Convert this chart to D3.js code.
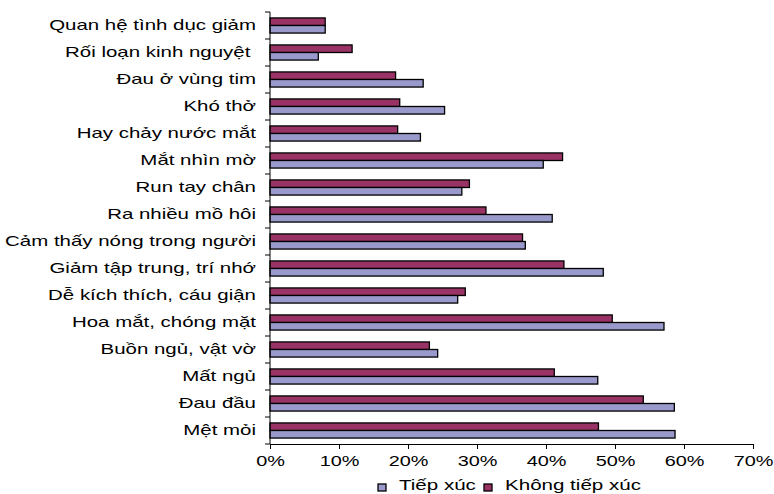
<!DOCTYPE html>
<html>
<head>
<meta charset="utf-8">
<script src="https://cdn.jsdelivr.net/npm/d3@7"></script>
<style>
body { margin: 0; background: #fff; }
svg { display: block; font-family: "Liberation Sans", Arial, sans-serif; }
text { white-space: pre; }
</style>
</head>
<body>
<svg id="chart" width="774" height="494"></svg>
<script>
const categories = [
  "Quan hệ tình dục giảm",
  "Rối loạn kinh nguyệt ",
  "Đau ở vùng tim",
  "Khó thở",
  "Hay chảy nước mắt",
  "Mắt nhìn mờ",
  "Run tay chân",
  "Ra nhiều mồ hôi",
  "Cảm thấy nóng trong người",
  "Giảm tập trung, trí nhớ",
  "Dễ kích thích, cáu giận",
  "Hoa mắt, chóng mặt",
  "Buồn ngủ, vật vờ",
  "Mất ngủ",
  "Đau đầu",
  "Mệt mỏi"
];
const tiepXuc =      [8.0, 7.0, 22.2, 25.3, 21.8, 39.6, 27.8, 40.9, 37.0, 48.3, 27.2, 57.1, 24.3, 47.5, 58.6, 58.7];
const khongTiepXuc = [8.0, 11.9, 18.2, 18.8, 18.5, 42.4, 28.9, 31.3, 36.6, 42.6, 28.3, 49.6, 23.1, 41.2, 54.1, 47.6];
const seriesNames = ["Tiếp xúc", "Không tiếp xúc"];
const seriesColors = ["#9999CC", "#993366"];
const xTicks = [0, 10, 20, 30, 40, 50, 60, 70];

const svg = d3.select("#chart");
const mLeft = 270, mRight = 753, mTop = 12, mBottom = 444;
const SX = 1.37;   // horizontal stretch of the original text rendering
const SXL = 1.41;  // stretch for category labels

const x = d3.scaleLinear().domain([0, 70]).range([mLeft, mRight]);
const y = d3.scaleBand().domain(categories).range([mTop, mBottom]).paddingInner(0.44).paddingOuter(0.22);
const sub = d3.scaleBand().domain(["k", "t"]).range([0, y.bandwidth()]);

const rows = categories.map((c, i) => ({c, t: tiepXuc[i], k: khongTiepXuc[i]}));

const g = svg.append("g");
rows.forEach(r => {
  [["k", r.k, seriesColors[1]], ["t", r.t, seriesColors[0]]].forEach(([key, v, col]) => {
    g.append("rect")
      .attr("x", x(0))
      .attr("y", y(r.c) + sub(key))
      .attr("width", x(v) - x(0))
      .attr("height", sub.bandwidth())
      .attr("fill", col)
      .attr("stroke", "#000")
      .attr("stroke-width", 1.3);
  });
});

// Y axis
const yStep = (mBottom - mTop) / categories.length;
svg.append("line").attr("x1", mLeft).attr("x2", mLeft).attr("y1", mTop).attr("y2", mBottom)
  .attr("stroke", "#000").attr("stroke-width", 1);
for (let i = 0; i <= categories.length; i++) {
  const yy = mTop + i * yStep;
  svg.append("line").attr("x1", mLeft - 5).attr("x2", mLeft).attr("y1", yy).attr("y2", yy)
    .attr("stroke", "#000").attr("stroke-width", 1);
}
svg.append("g").selectAll("text").data(categories).join("text")
  .attr("transform", d => `translate(256,${y(d) + y.bandwidth() / 2 - 0.5}) scale(${SXL},1)`)
  .attr("dy", "0.35em")
  .attr("text-anchor", "end")
  .attr("font-size", 14.5)
  .attr("fill", "#000")
  .text(d => d);

// X axis
const xAxis = d3.axisBottom(x).tickValues(xTicks).tickFormat(d => d + "%").tickSize(5).tickPadding(7);
const xg = svg.append("g").attr("transform", `translate(0,${mBottom})`).call(xAxis);
xg.select(".domain").attr("stroke", "#000");
xg.selectAll(".tick line").attr("stroke", "#000");
xg.selectAll("text").attr("font-size", 14.5).attr("fill", "#000")
  .attr("font-family", "Liberation Sans, Arial, sans-serif")
  .attr("transform", `scale(${SX},1)`)
  .attr("x", 0);

// Legend
const legend = svg.append("g");
const legendX = [378, 484];
seriesNames.forEach((name, i) => {
  legend.append("rect").attr("x", legendX[i]).attr("y", 484).attr("width", 8).attr("height", 7)
    .attr("fill", seriesColors[i]).attr("stroke", "#000").attr("stroke-width", 1.3);
  legend.append("text")
    .attr("transform", `translate(${legendX[i] + 21},490) scale(${SX},1)`)
    .attr("font-size", 15).attr("fill", "#000").text(name);
});
</script>
</body>
</html>
